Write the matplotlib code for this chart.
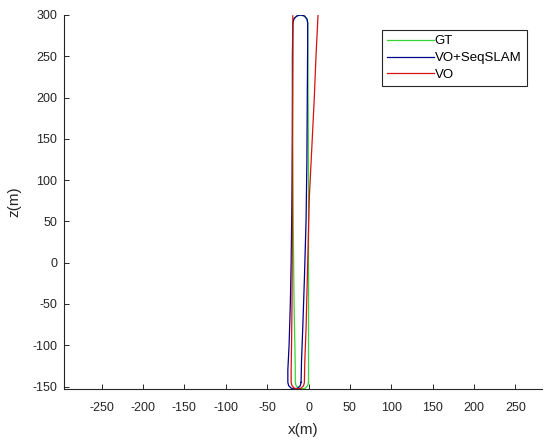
import matplotlib
matplotlib.use("Agg")
from matplotlib import pyplot as plt

plt.rcParams['font.family'] = ['Liberation Sans', 'DejaVu Sans']
plt.rcParams['axes.unicode_minus'] = False

# trajectory waypoints (metres)
gt_x = [0, 0, 0, 0, -0.5, -1, -1, -2.2, -5.5, -10, -14.5, -17.8, -19,
        -19, -19, -18.5, -17.5, -16.5, -16, -16,
        -15, -12, -8, -4, -1, 0]
gt_z = [-145, -100, 0, 100, 200, 270, 291, 295.5, 298.8, 300, 298.8, 295.5, 291,
        250, 150, 50, -50, -100, -130, -145,
        -149, -152, -153, -152, -149, -145]

slam_x = [-9, -8.5, -7, -5, -3, -2, -1.5, -1, -1, -1.8, -4.8, -9.5, -14, -17.5, -19,
          -19.5, -19.5, -20, -21, -22, -23.5, -25, -25,
          -24, -21, -17, -13, -10, -9]
slam_z = [-145, -120, -80, -20, 50, 120, 200, 270, 290, 295, 298.8, 300, 298.8, 295.5, 290,
          250, 150, 80, 0, -50, -100, -130, -145,
          -149, -152, -153, -152, -149, -145]

vo_x = [-19, -19, -19.5, -19.5, -20, -20.5, -21, -21,
        -20, -17, -13, -9, -6, -5,
        -4.5, -3, -1.5, 0, 1, 3, 5, 7, 9, 10.5, 11.5]
vo_z = [299, 250, 150, 50, -50, -100, -130, -145,
        -149, -152, -153, -152, -149, -145,
        -120, -80, -20, 40, 80, 120, 160, 200, 250, 280, 300]

fig = plt.figure(figsize=(5.5, 4.46), dpi=100)
ax = fig.add_axes([0.1164, 0.1278, 0.8691, 0.8386])

ax.plot(gt_x, gt_z, color='#33d633', lw=0.9, label='GT')
ax.plot(slam_x, slam_z, color='#00008b', lw=0.9, label='VO+SeqSLAM')
ax.plot(vo_x, vo_z, color='#d81010', lw=0.9, label='VO')

ax.set_xlim(-295.5, 282.2)
ax.set_ylim(-153, 300)
ax.set_xticks(range(-250, 251, 50))
ax.set_yticks(range(-150, 301, 50))

for side in ('top', 'right'):
    ax.spines[side].set_visible(False)
for side in ('left', 'bottom'):
    ax.spines[side].set_color('#262626')
    ax.spines[side].set_linewidth(0.8)
ax.tick_params(direction='in', length=3.5, width=0.7, colors='#262626',
               labelsize=9)
ax.tick_params(axis='x', pad=9)
ax.tick_params(axis='y', pad=5)

ax.set_xlabel('x(m)', fontsize=11, color='#262626', labelpad=7)
ax.set_ylabel('z(m)', fontsize=11, color='#262626', labelpad=8)

leg = ax.legend(loc='upper right', bbox_to_anchor=(0.958, 0.933),
                bbox_transform=fig.transFigure, borderaxespad=0,
                fancybox=False, framealpha=1, edgecolor='#262626',
                fontsize=9.5, handlelength=3.5, handletextpad=0.1,
                labelspacing=0.35, borderpad=0.4)
leg.get_frame().set_linewidth(0.8)

fig.savefig('out.png', dpi=100)
